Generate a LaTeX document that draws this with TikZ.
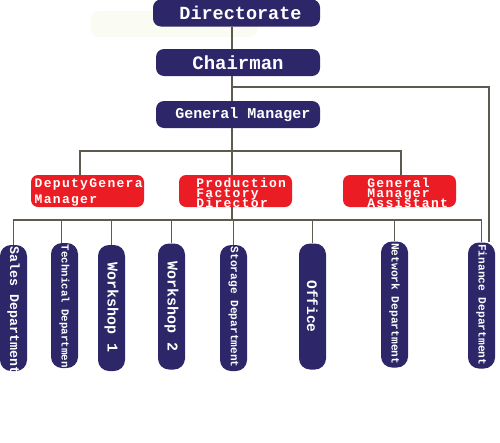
\documentclass[tikz,border=0pt]{standalone}
\usepackage{fontspec}
\usepackage{xcolor}
\usepackage{tikz}
\newfontfamily\orgfont{Liberation Mono}
\newfontfamily\orgfontwide{Liberation Mono}[LetterSpace=10]
\definecolor{navy}{RGB}{45,38,105}
\definecolor{orgred}{RGB}{236,28,36}
\definecolor{linegray}{RGB}{95,90,80}
\definecolor{haze}{RGB}{250,251,242}

\begin{document}
\begin{tikzpicture}[x=1pt,y=-1pt,
  topbox/.style={fill=navy,rounded corners=8pt,text=white,inner sep=0pt,minimum height=27pt},
  redtext/.style={anchor=north west,align=left,inner sep=0pt,text=white,font=\orgfontwide\bfseries\fontsize{13}{10}\selectfont\setlength{\lineskiplimit}{-20pt}},
  redbox/.style 2 args={fill=orgred,rounded corners=7pt,minimum width=113pt,minimum height=32pt,inner sep=0pt,
    path picture={\node[redtext] at ([xshift=#1,yshift=-1.5pt]path picture bounding box.north west) {#2};}},
  dept/.style={fill=navy,rounded corners=11pt,minimum width=27pt,minimum height=126pt,inner sep=0pt},
  depttext/.style={rotate=-90,text=white,inner sep=0pt,font=\orgfont\bfseries},
  deptlong/.style={dept,path picture={\node[depttext,anchor=west] at ([yshift=-1.5pt]path picture bounding box.north) {#1};}},
  deptshort/.style={dept,path picture={\node[depttext] at (path picture bounding box.center) {#1};}},
  wire/.style={draw=linegray,line width=1.2pt}]
\useasboundingbox (0,0) rectangle (500,442);
\fill[haze,rounded corners=10pt] (90,11) rectangle (258,37);
\node[topbox,minimum width=167pt,font=\orgfont\bfseries\fontsize{18.5}{18.5}\selectfont] (dir) at (236.5,13) {\hspace{8pt}Directorate};
\node[topbox,minimum width=164pt,font=\orgfont\bfseries\fontsize{19}{19}\selectfont] (chair) at (238,62.5) {Chairman\hspace{12pt}};
\node[topbox,minimum width=164pt,font=\orgfont\bfseries\fontsize{15}{15}\selectfont] (gm) at (238,114.5) {\hspace{10pt}General Manager};
\node[redbox={1pt}{DeputyGenera\\[6pt]Manager}] (dgm) at (87.5,191) {};
\node[redbox={5.5pt}{Production\\Factory\\Director}] (pfd) at (235.5,191) {};
\node[redbox={8pt}{General\\Manager\\Assistant}] (gma) at (399.5,191) {};
\node[deptlong={\fontsize{13.3}{13.3}\selectfont Sales Department}] (sales) at (13.5,308) {};
\node[deptlong={\fontsize{10.8}{10.8}\selectfont Technical Department},minimum height=125pt] (tech) at (64.5,305.5) {};
\node[deptshort={\fontsize{15}{15}\selectfont Workshop 1}] (ws1) at (111.5,308) {};
\node[deptshort={\fontsize{15}{15}\selectfont Workshop 2}] (ws2) at (171.5,306.5) {};
\node[deptlong={\fontsize{11.2}{11.2}\selectfont Storage Department}] (stor) at (233.5,308) {};
\node[deptshort={\fontsize{14.5}{14.5}\selectfont Office}] (office) at (312.5,306.5) {};
\node[deptlong={\fontsize{11.2}{11.2}\selectfont Network Department}] (net) at (394.5,304.5) {};
\node[deptlong={\fontsize{11.2}{11.2}\selectfont Finance Department}] (fin) at (481.5,305.5) {};
\coordinate (spine) at (232,0);
\coordinate (tap) at (232,87);
\coordinate (split) at (232,151);
\coordinate (bus) at (232,220);
\draw[wire] (spine |- dir.south) -- (spine |- chair.north);
\draw[wire] (spine |- chair.south) -- (spine |- gm.north);
\draw[wire] (spine |- gm.south) -- (spine |- pfd.north);
\draw[wire] ([xshift=-7.5pt]dgm.north) |- (split) -| ([xshift=1.5pt]gma.north);
\draw[wire] (tap) -| ([xshift=7.5pt]fin.north);
\draw[wire] (spine |- pfd.south) -- (bus);
\draw[wire] (sales.north) |- (bus) -| (fin.north);
\draw[wire] (bus) -| ([xshift=-3pt]tech.north);
\draw[wire] (bus) -| (ws1.north);
\draw[wire] (bus) -| (ws2.north);
\draw[wire] (bus) -| (stor.north);
\draw[wire] (bus) -| (office.north);
\draw[wire] (bus) -| (net.north);
\end{tikzpicture}
\end{document}
